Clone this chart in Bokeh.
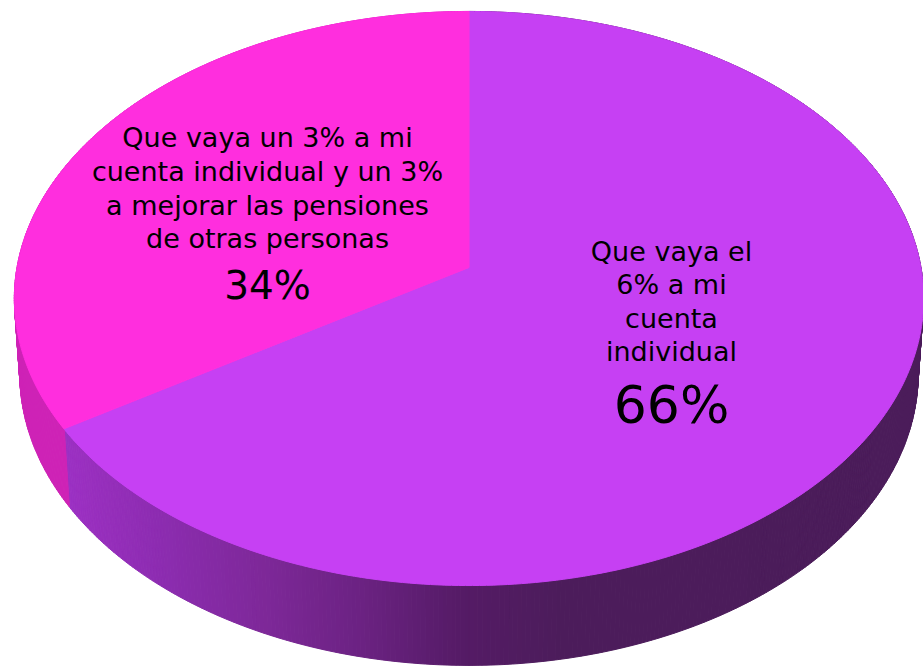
import numpy as np
from bokeh.plotting import figure
from bokeh.models import Range1d
from bokeh.embed import file_html
from bokeh.resources import INLINE
from bokeh.core.properties import value

# ---- data ----
categories = ["Que vaya el 6% a mi cuenta individual",
              "Que vaya un 3% a mi cuenta individual y un 3% a mejorar las pensiones de otras personas"]
shares = [66, 34]
label_lines = [["Que vaya el", "6% a mi", "cuenta", "individual"],
               ["Que vaya un 3% a mi", "cuenta individual y un 3%",
                "a mejorar las pensiones", "de otras personas"]]
pct_labels = ["66%", "34%"]

# ---- style ----
top_colors = [(198, 64, 243), (255, 46, 222)]
side_stops_x = [60, 80, 160, 260, 360, 460, 560, 940]
side_stops_purple = [(156, 49, 196), (154, 48, 192), (140, 44, 176), (126, 40, 153),
                     (107, 34, 130), (85, 27, 102), (76, 28, 91), (75, 28, 90)]
side_magenta = (206, 34, 182)

# projection (perspective 3D pie) in reference pixel space
CX, CY, A, B, K, M, C = 468.5, 267.0, 452.0, 283.7, 0.108, 0.012, 76.0


def proj(phi, h):
    u, v = np.sin(phi), np.cos(phi)
    w = 1 + K * v + M * h
    return CX + A * u / w, CY - (B * v - C * h) / w


def hexc(c):
    return "#%02x%02x%02x" % tuple(int(round(t)) for t in c)


total = float(sum(shares))
bounds = np.concatenate([[0.0], np.cumsum(shares) / total * 2 * np.pi])

p = figure(width=923, height=669, output_backend="svg", toolbar_location=None,
           x_range=Range1d(0, 923), y_range=Range1d(669, 0), min_border=0)
p.axis.visible = False
p.grid.visible = False
p.outline_line_color = None
p.background_fill_color = "white"

# side wall
N = 720
phis = np.linspace(0, 2 * np.pi, N + 1)
xs, ys, cols = [], [], []
for i in range(N):
    a0, a1 = phis[i], phis[i + 1]
    x0t, y0t = proj(a0, 0)
    x1t, y1t = proj(a1, 0)
    x0b, y0b = proj(a0, 1)
    x1b, y1b = proj(a1, 1)
    xs.append([x0t, x1t, x1b, x0b])
    ys.append([y0t, y1t, y1b, y0b])
    mid = 0.5 * (a0 + a1)
    sl = int(np.searchsorted(bounds, mid, side="right") - 1)
    sl = min(sl, len(shares) - 1)
    if sl == 0:
        xm = 0.5 * (x0t + x1t)
        c = [np.interp(xm, side_stops_x, [s[j] for s in side_stops_purple]) for j in range(3)]
    else:
        c = side_magenta
    cols.append(hexc(c))
p.patches(xs=xs, ys=ys, fill_color=cols, line_color=cols, line_width=1)

# top face
for i in range(len(shares)):
    arc = np.linspace(bounds[i], bounds[i + 1], 300)
    ax, ay = proj(arc, 0)
    px = np.concatenate([[CX], ax])
    py = np.concatenate([[CY], ay])
    col = hexc(top_colors[i])
    p.patch(px, py, fill_color=col, line_color=col, line_width=1)

# labels
label_x = [671, 267]
label_base = [[251, 284, 318, 351], [137, 171, 205, 238]]
pct_base = [404, 285]
pct_size = ["52px", "39px"]
for i in range(len(shares)):
    p.text(x=[label_x[i]] * len(label_lines[i]), y=label_base[i], text=label_lines[i],
           text_font=value("DejaVu Sans"), text_font_size=value("27px"),
           text_align="center", text_baseline="alphabetic", text_color="black")
    p.text(x=[label_x[i]], y=[pct_base[i]], text=[pct_labels[i]],
           text_font=value("DejaVu Sans"), text_font_size=value(pct_size[i]),
           text_align="center", text_baseline="alphabetic", text_color="black")

open("out.html", "w").write(file_html(p, INLINE))
